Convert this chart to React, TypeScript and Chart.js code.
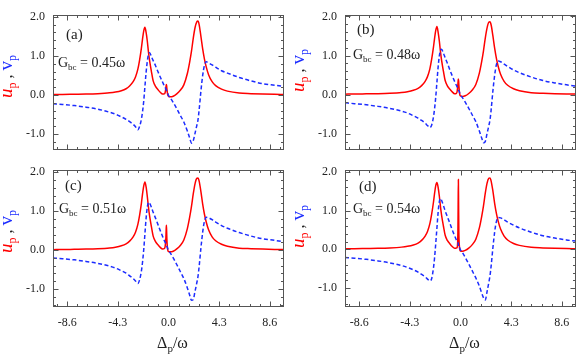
import React, { useEffect, useRef } from "react";
import { Chart, registerables } from "chart.js";

Chart.register(...registerables);

// ---------- data ----------
const X_VALUES = [
  -9.8, -9, -8, -7, -6, -5, -4.5, -4, -3.6, -3.3,
  -3.0, -2.8, -2.6, -2.45, -2.3, -2.2, -2.1, -2.0, -1.9, -1.8,
  -1.7, -1.6, -1.45, -1.3, -1.1, -0.9, -0.7, -0.5, -0.35, -0.28,
  -0.22, -0.2, -0.18, -0.16, -0.14, -0.1, -0.05, 0, 0.15, 0.4,
  0.7, 1.0, 1.3, 1.6, 1.8, 1.95, 2.1, 2.25, 2.4, 2.5,
  2.6, 2.75, 2.9, 3.05, 3.2, 3.4, 3.7, 4.0, 4.5, 5,
  6, 7, 8, 9, 9.8,
];

const RED_A = [
  0.012, 0.015, 0.02, 0.025, 0.035, 0.055, 0.075, 0.11, 0.16, 0.23,
  0.34, 0.46, 0.66, 0.9, 1.2, 1.44, 1.64, 1.73, 1.6, 1.38,
  1.1, 0.87, 0.6, 0.36, 0.22, 0.14, 0.07, 0.025, 0.03, 0.07,
  0.19, 0.24, 0.27, 0.24, 0.17, 0.07, -0.01, -0.035, -0.045, -0.03,
  0.03, 0.12, 0.26, 0.55, 0.85, 1.12, 1.45, 1.72, 1.87, 1.89,
  1.8, 1.5, 1.18, 0.92, 0.72, 0.52, 0.34, 0.24, 0.15, 0.1,
  0.05, 0.035, 0.025, 0.018, 0.015,
];
const RED_B = [
  0.012, 0.015, 0.02, 0.025, 0.035, 0.055, 0.075, 0.11, 0.16, 0.23,
  0.34, 0.46, 0.66, 0.9, 1.2, 1.44, 1.64, 1.74, 1.6, 1.38,
  1.1, 0.87, 0.6, 0.36, 0.22, 0.14, 0.07, 0.025, 0.035, 0.09,
  0.27, 0.35, 0.4, 0.35, 0.25, 0.09, -0.01, -0.035, -0.045, -0.03,
  0.03, 0.12, 0.26, 0.55, 0.85, 1.12, 1.44, 1.7, 1.85, 1.86,
  1.78, 1.5, 1.18, 0.92, 0.72, 0.52, 0.34, 0.24, 0.15, 0.1,
  0.05, 0.035, 0.025, 0.018, 0.015,
];
const RED_C = [
  0.012, 0.015, 0.02, 0.025, 0.035, 0.055, 0.075, 0.11, 0.16, 0.23,
  0.34, 0.46, 0.66, 0.9, 1.2, 1.45, 1.65, 1.75, 1.62, 1.38,
  1.1, 0.87, 0.6, 0.36, 0.22, 0.14, 0.07, 0.025, 0.04, 0.1,
  0.33, 0.5, 0.64, 0.5, 0.3, 0.09, -0.015, -0.04, -0.045, -0.03,
  0.03, 0.12, 0.26, 0.55, 0.85, 1.12, 1.44, 1.7, 1.84, 1.85,
  1.77, 1.5, 1.18, 0.92, 0.72, 0.52, 0.34, 0.24, 0.15, 0.1,
  0.05, 0.035, 0.025, 0.018, 0.015,
];
const RED_D = [
  0.012, 0.015, 0.02, 0.025, 0.035, 0.055, 0.075, 0.11, 0.16, 0.23,
  0.34, 0.46, 0.66, 0.9, 1.2, 1.44, 1.64, 1.72, 1.6, 1.38,
  1.1, 0.87, 0.6, 0.36, 0.22, 0.14, 0.07, 0.025, 0.03, 0.05,
  0.45, 1.1, 1.8, 1.1, 0.45, 0.1, -0.02, -0.045, -0.05, -0.03,
  0.03, 0.12, 0.26, 0.55, 0.85, 1.12, 1.44, 1.7, 1.83, 1.84,
  1.76, 1.5, 1.18, 0.92, 0.72, 0.52, 0.34, 0.24, 0.15, 0.1,
  0.05, 0.035, 0.025, 0.018, 0.015,
];

const BLUE_A = [
  -0.22, -0.24, -0.27, -0.31, -0.36, -0.44, -0.49, -0.56, -0.62, -0.68,
  -0.75, -0.81, -0.89, -0.8, -0.62, -0.42, -0.15, 0.22, 0.58, 0.86,
  1.04, 1.08, 0.98, 0.88, 0.75, 0.6, 0.46, 0.33, 0.23, 0.19,
  0.15, 0.14, 0.13, 0.11, 0.1, 0.07, 0.03, -0.01, -0.07, -0.19,
  -0.35, -0.52, -0.69, -0.92, -1.1, -1.23, -1.17, -0.98, -0.78, -0.64,
  -0.38, 0.1, 0.5, 0.76, 0.85, 0.82, 0.77, 0.71, 0.62, 0.56,
  0.45, 0.36, 0.29, 0.25, 0.22,
];
const BLUE_B = [
  -0.21, -0.23, -0.26, -0.3, -0.35, -0.42, -0.47, -0.54, -0.6, -0.66,
  -0.73, -0.79, -0.84, -0.78, -0.58, -0.36, -0.06, 0.32, 0.7, 0.98,
  1.13, 1.16, 1.06, 0.94, 0.79, 0.63, 0.48, 0.34, 0.24, 0.2,
  0.16, 0.15, 0.13, 0.11, 0.1, 0.07, 0.03, -0.01, -0.07, -0.19,
  -0.35, -0.52, -0.69, -0.93, -1.11, -1.23, -1.2, -1.0, -0.8, -0.65,
  -0.39, 0.1, 0.5, 0.77, 0.86, 0.84, 0.78, 0.72, 0.63, 0.56,
  0.45, 0.36, 0.3, 0.25, 0.22,
];
const BLUE_C = [
  -0.2, -0.22, -0.25, -0.29, -0.34, -0.41, -0.46, -0.53, -0.59, -0.66,
  -0.73, -0.79, -0.86, -0.76, -0.54, -0.3, 0.02, 0.42, 0.82, 1.1,
  1.23, 1.2, 1.1, 0.97, 0.82, 0.66, 0.5, 0.35, 0.24, 0.2,
  0.16, 0.15, 0.14, 0.12, 0.1, 0.07, 0.03, -0.01, -0.07, -0.2,
  -0.37, -0.55, -0.73, -0.97, -1.16, -1.29, -1.27, -1.06, -0.84, -0.68,
  -0.42, 0.05, 0.46, 0.74, 0.84, 0.83, 0.78, 0.72, 0.63, 0.56,
  0.45, 0.36, 0.29, 0.25, 0.21,
];
const BLUE_D = [
  -0.21, -0.23, -0.26, -0.3, -0.35, -0.42, -0.47, -0.53, -0.59, -0.65,
  -0.71, -0.77, -0.82, -0.76, -0.5, -0.22, 0.15, 0.55, 0.95, 1.22,
  1.31, 1.26, 1.13, 0.99, 0.83, 0.67, 0.5, 0.35, 0.24, 0.2,
  0.17, 0.17, 0.12, 0.07, 0.08, 0.06, 0.02, -0.02, -0.08, -0.21,
  -0.38, -0.56, -0.74, -0.95, -1.13, -1.25, -1.31, -1.1, -0.86, -0.69,
  -0.43, 0.04, 0.45, 0.72, 0.82, 0.81, 0.76, 0.7, 0.62, 0.55,
  0.44, 0.35, 0.29, 0.24, 0.21,
];

const X_TICKS = [-8.6, -4.3, 0, 4.3, 8.6];
const Y_TICKS = [-1, 0, 1, 2];
const PANEL_TAGS = ["(a)", "(b)", "(c)", "(d)"];
const G_VALUES = ["0.45", "0.48", "0.51", "0.54"];
const PANEL_RED = [RED_A, RED_B, RED_C, RED_D];
const PANEL_BLUE = [BLUE_A, BLUE_B, BLUE_C, BLUE_D];

// ---------- styles / layout ----------
const SERIF = "'Liberation Serif', 'Times New Roman', serif";
const RED = "#ff0000";
const BLUE = "#1c2cff";
const INK = "#222222";
const FRAME = "#555555";

const LAYOUT = [
  { left: 0, top: 0, w: 290, h: 165, yAxisW: 53, padTop: 12, padRight: 6, xAxisH: 11, showX: false, yMin: -1.4, yMax: 2.04, tagDx: 13, tagDy: 19, gDx: 5, gDy: 48, ytDy: -6 },
  { left: 290, top: 0, w: 291, h: 165, yAxisW: 55, padTop: 13, padRight: 5, xAxisH: 10, showX: false, yMin: -1.41, yMax: 2.03, tagDx: 12, tagDy: 14, gDx: 8, gDy: 40, ytDy: -12 },
  { left: 0, top: 155, w: 290, h: 205, yAxisW: 53, padTop: 9, padRight: 6, xAxisH: 53, showX: true, yMin: -1.46, yMax: 2.05, tagDx: 12, tagDy: 15, gDx: 6, gDy: 39, ytDy: -7 },
  { left: 290, top: 155, w: 291, h: 205, yAxisW: 55, padTop: 9, padRight: 5, xAxisH: 53, showX: true, yMin: -1.49, yMax: 2.04, tagDx: 14, tagDy: 16, gDx: 8, gDy: 39, ytDy: -12 },
];

type Part = { text: string; size: number; color: string; italic?: boolean; dy?: number };

function drawParts(ctx: CanvasRenderingContext2D, parts: Part[], x: number, y: number, center: boolean) {
  const fontOf = (p: Part) => `${p.italic ? "italic " : ""}${p.size}px ${SERIF}`;
  const widths = parts.map((p) => {
    ctx.font = fontOf(p);
    return ctx.measureText(p.text).width;
  });
  const total = widths.reduce((a, b) => a + b, 0);
  let cx = center ? x - total / 2 : x;
  ctx.textAlign = "left";
  ctx.textBaseline = "alphabetic";
  parts.forEach((p, i) => {
    ctx.font = fontOf(p);
    ctx.fillStyle = p.color;
    ctx.fillText(p.text, cx, y + (p.dy || 0));
    cx += widths[i];
  });
}

const Y_TITLE: Part[] = [
  { text: "u", size: 19, color: RED, italic: true },
  { text: "p", size: 12, color: RED, dy: 4 },
  { text: " , ", size: 16, color: INK },
  { text: "v", size: 19, color: BLUE },
  { text: "p", size: 12, color: BLUE, dy: 4 },
];
const X_TITLE: Part[] = [
  { text: "Δ", size: 16, color: INK },
  { text: "p", size: 11, color: INK, dy: 4 },
  { text: "/ω", size: 16, color: INK },
];

const framePlugin = {
  id: "frameTicks",
  afterDatasetsDraw(chart: any) {
    const { ctx, chartArea: ca, scales } = chart;
    const xs = scales.x;
    const ys = scales.y;
    ctx.save();
    ctx.strokeStyle = FRAME;
    ctx.lineWidth = 1;
    const l = Math.round(ca.left) + 0.5;
    const t = Math.round(ca.top) + 0.5;
    const r = Math.round(ca.right) - 0.5;
    const b = Math.round(ca.bottom) - 0.5;
    ctx.strokeRect(l, t, r - l, b - t);
    ctx.beginPath();
    for (let k = -12; k <= 12; k++) {
      const v = k * 0.86;
      if (v <= xs.min || v >= xs.max) continue;
      const len = k % 5 === 0 ? 5 : 2.5;
      const px = Math.round(xs.getPixelForValue(v)) + 0.5;
      ctx.moveTo(px, b);
      ctx.lineTo(px, b - len);
      ctx.moveTo(px, t);
      ctx.lineTo(px, t + len);
    }
    for (let k = -10; k <= 15; k++) {
      const v = k * 0.2;
      if (v <= ys.min || v >= ys.max) continue;
      const len = k % 5 === 0 ? 5 : 2.5;
      const py = Math.round(ys.getPixelForValue(v)) + 0.5;
      ctx.moveTo(l, py);
      ctx.lineTo(l + len, py);
      ctx.moveTo(r, py);
      ctx.lineTo(r - len, py);
    }
    ctx.stroke();
    ctx.restore();
  },
};

function makeTextPlugin(idx: number) {
  return {
    id: "panelText" + idx,
    afterDraw(chart: any) {
      const { ctx, chartArea: ca } = chart;
      const L = LAYOUT[idx];
      ctx.save();
      drawParts(ctx, [{ text: PANEL_TAGS[idx], size: 15, color: INK }], ca.left + L.tagDx, ca.top + L.tagDy + 5, false);
      drawParts(
        ctx,
        [
          { text: "G", size: 14, color: INK },
          { text: "bc", size: 9, color: INK, dy: 3 },
          { text: " = " + G_VALUES[idx] + "ω", size: 14, color: INK },
        ],
        ca.left + L.gDx,
        ca.top + L.gDy + 4,
        false
      );
      if (L.showX) {
        drawParts(ctx, X_TITLE, (ca.left + ca.right) / 2 + 4, ca.bottom + 41, true);
      }
      ctx.translate(ca.left - 41, (ca.top + ca.bottom) / 2 + L.ytDy);
      ctx.rotate(-Math.PI / 2);
      drawParts(ctx, Y_TITLE, 0, 0, true);
      ctx.restore();
    },
  };
}

function Panel({ idx }: { idx: number }) {
  const ref = useRef<HTMLCanvasElement | null>(null);
  const L = LAYOUT[idx];
  useEffect(() => {
    if (!ref.current) return;
    const red = PANEL_RED[idx];
    const blue = PANEL_BLUE[idx];
    const tickFont = { family: SERIF, size: 12 };
    const chart = new Chart(ref.current, {
      type: "line",
      data: {
        datasets: [
          {
            data: X_VALUES.map((x, i) => ({ x, y: blue[i] })),
            borderColor: BLUE,
            borderWidth: 1.5,
            borderDash: [4, 2.5],
            pointRadius: 0,
            fill: false,
            cubicInterpolationMode: "monotone",
          },
          {
            data: X_VALUES.map((x, i) => ({ x, y: red[i] })),
            borderColor: RED,
            borderWidth: 1.5,
            pointRadius: 0,
            fill: false,
            cubicInterpolationMode: "monotone",
          },
        ],
      },
      options: {
        animation: false,
        responsive: false,
        devicePixelRatio: 1,
        layout: { padding: { left: 0, top: L.padTop, right: L.padRight, bottom: 0 } },
        plugins: { legend: { display: false }, tooltip: { enabled: false } },
        scales: {
          x: {
            type: "linear",
            min: -9.8,
            max: 9.8,
            grid: { display: false, drawTicks: false },
            border: { display: false },
            ticks: {
              display: L.showX,
              padding: 9,
              autoSkip: false,
              maxRotation: 0,
              font: tickFont,
              color: INK,
              callback: (v: any) => Number(v).toFixed(1),
            },
            afterBuildTicks: (s: any) => {
              s.ticks = X_TICKS.map((v) => ({ value: v }));
            },
            afterFit: (s: any) => {
              s.height = L.xAxisH;
            },
          },
          y: {
            type: "linear",
            min: L.yMin,
            max: L.yMax,
            grid: { display: false, drawTicks: false },
            border: { display: false },
            ticks: {
              padding: 8,
              autoSkip: false,
              font: tickFont,
              color: INK,
              callback: (v: any) => Number(v).toFixed(1),
            },
            afterBuildTicks: (s: any) => {
              s.ticks = Y_TICKS.map((v) => ({ value: v }));
            },
            afterFit: (s: any) => {
              s.width = L.yAxisW;
            },
          },
        },
      } as any,
      plugins: [framePlugin, makeTextPlugin(idx)],
    });
    return () => chart.destroy();
  }, [idx]);
  return (
    <canvas
      ref={ref}
      width={L.w}
      height={L.h}
      style={{ position: "absolute", left: L.left, top: L.top, width: L.w, height: L.h }}
    />
  );
}

export default function App() {
  return (
    <div style={{ position: "absolute", left: 0, top: 0, width: 581, height: 360, background: "#ffffff", overflow: "hidden" }}>
      {[0, 1, 2, 3].map((i) => (
        <Panel key={i} idx={i} />
      ))}
    </div>
  );
}
